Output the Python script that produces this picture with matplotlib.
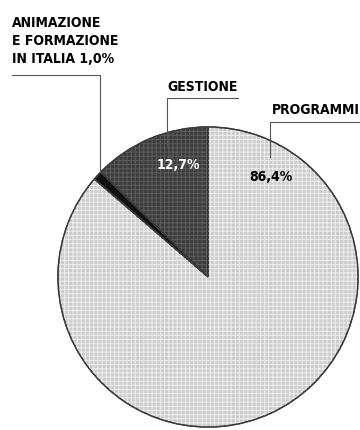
import matplotlib.pyplot as plt
from matplotlib.patches import Wedge

categories = ['GESTIONE', 'ANIMAZIONE\nE FORMAZIONE\nIN ITALIA', 'PROGRAMMI']
shares = [12.7, 1.0, 86.4]
colors = ['#3c3c3c', '#111111', '#cdcdcd']
texture = ['#5c5c5c', None, '#ededed']
value_colors = ['white', 'black', 'black']

H = 430


def fmt(v):
    return f"{v:.1f}".replace('.', ',') + '%'


font = dict(family=['DejaVu Sans'], fontstretch='condensed', weight='bold')

plt.rcParams['hatch.linewidth'] = 0.7

fig = plt.figure(figsize=(3.6, 4.3), dpi=100)
ax = fig.add_axes([0, 0, 1, 1])

cx, cy, r = 208, H - 277, 150
wedges, _ = ax.pie(shares, colors=colors, startangle=90, counterclock=True,
                   center=(cx, cy), radius=r,
                   wedgeprops=dict(edgecolor='#3a3a3a', linewidth=1.0))
# dot grid texture on top of each wedge
for w, tc in zip(wedges, texture):
    if tc:
        ax.add_patch(Wedge(w.center, w.r, w.theta1, w.theta2, facecolor='none',
                           edgecolor=tc, hatch='++++', linewidth=0))
    ax.add_patch(Wedge(w.center, w.r, w.theta1, w.theta2, facecolor='none',
                       edgecolor='#3a3a3a', linewidth=1.0))

ax.set_xlim(0, 360)
ax.set_ylim(0, H)
ax.set_aspect('equal')
ax.axis('off')

line = dict(color='#555555', linewidth=0.8)

# ANIMAZIONE label
ax.text(12, H - 41, categories[1] + ' ' + fmt(shares[1]), ha='left', va='center',
        fontsize=10, linespacing=1.35, **font)
ax.plot([12, 100, 100], [H - 75, H - 75, H - 172], **line)

# GESTIONE label
ax.text(167, H - 87, categories[0], ha='left', va='center', fontsize=10, **font)
ax.plot([238, 167, 167], [H - 98, H - 98, H - 145], **line)
ax.text(178, H - 165, fmt(shares[0]), ha='center', va='center', fontsize=10,
        color=value_colors[0], zorder=5, **font)

# PROGRAMMI label
ax.text(272, H - 110, categories[2], ha='left', va='center', fontsize=10, **font)
ax.plot([360, 270, 270], [H - 122, H - 122, H - 157], **line)
ax.text(271, H - 177, fmt(shares[2]), ha='center', va='center', fontsize=10,
        color=value_colors[2], zorder=5, **font)

fig.savefig('out.png', dpi=100)
